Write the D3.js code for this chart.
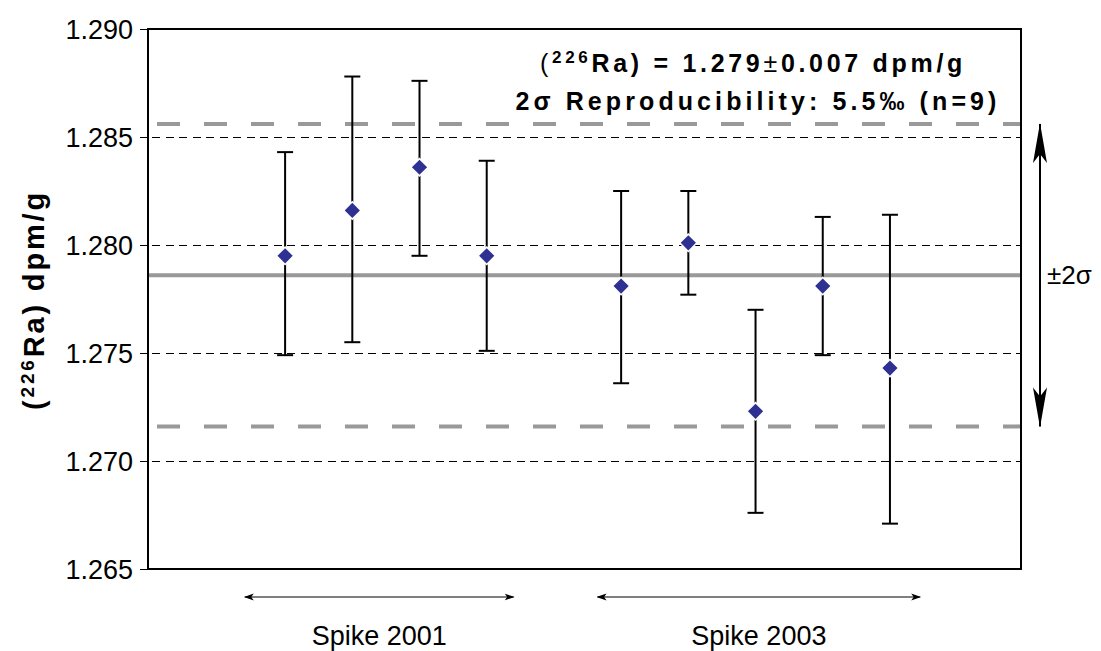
<!DOCTYPE html>
<html><head><meta charset="utf-8">
<script src="https://cdn.jsdelivr.net/npm/d3@7"></script>
<style>body{margin:0;background:#fff}svg{display:block}text{font-family:"Liberation Sans",Arial,sans-serif}</style>
</head><body>
<svg id="c" width="1101" height="651"></svg>
<script>
const positions = [1,2,3,4,6,7,8,9,10];
const values = [1.2795,1.2816,1.2836,1.2795,1.2781,1.2801,1.2723,1.2781,1.2743];
const upper = [1.2843,1.2878,1.2876,1.2839,1.2825,1.2825,1.2770,1.2813,1.2814];
const lower = [1.2749,1.2755,1.2795,1.2751,1.2736,1.2777,1.2676,1.2749,1.2671];
const yTicks = [1.265,1.270,1.275,1.280,1.285,1.290];
const gridTicks = [1.270,1.275,1.280,1.285];
const mean = 1.2786, twoSigma = 0.007;
const groups = [{label:"Spike 2001", from:0.4, to:4.4},{label:"Spike 2003", from:5.65, to:10.45}];

const svg = d3.select("#c");
const L=148,R=1021,T=29,B=569;
const x = d3.scaleLinear().domain([-1.04,11.95]).range([L,R]);
const y = d3.scaleLinear().domain([1.265,1.290]).range([B,T]);

function fit(sel, target){
  sel.attr("letter-spacing",0);
  const n = sel.node().getNumberOfChars();
  const w = sel.node().getBBox().width;
  sel.attr("letter-spacing", Math.max(0,(target - w)/n));
}

const defs = svg.append("defs");
defs.append("marker").attr("id","ah").attr("viewBox","0 0 10 10").attr("refX",9).attr("refY",5)
   .attr("markerWidth",10).attr("markerHeight",10).attr("markerUnits","userSpaceOnUse").attr("orient","auto-start-reverse")
   .append("path").attr("d","M0,1.5 L10,5 L0,8.5 L2.5,5 Z").attr("fill","#000");
defs.append("marker").attr("id","big").attr("viewBox","0 0 40 14").attr("refX",39).attr("refY",7)
  .attr("markerWidth",40).attr("markerHeight",14).attr("markerUnits","userSpaceOnUse").attr("orient","auto-start-reverse")
  .append("path").attr("d","M0,0 L40,7 L0,14 L9,7 Z").attr("fill","#000");

// grid
svg.append("g").selectAll("line").data(gridTicks).join("line")
  .attr("x1",L+4).attr("x2",R).attr("y1",d=>y(d)+0.5).attr("y2",d=>y(d)+0.5)
  .attr("stroke","#000").attr("stroke-width",1).attr("stroke-dasharray","8,5.5").attr("shape-rendering","crispEdges");

// mean and 2 sigma lines
svg.append("line").attr("x1",L).attr("x2",R).attr("y1",y(mean)).attr("y2",y(mean))
  .attr("stroke","#999").attr("stroke-width",4);
svg.append("g").selectAll("line").data([mean+twoSigma, mean-twoSigma]).join("line")
  .attr("x1",L).attr("x2",R).attr("y1",d=>y(d)).attr("y2",d=>y(d))
  .attr("stroke","#999").attr("stroke-width",4).attr("stroke-dasharray","23,24").attr("stroke-dashoffset",38);

// error bars
const g = svg.append("g");
positions.forEach((p,i)=>{
  const cx = x(p);
  g.append("line").attr("x1",cx).attr("x2",cx).attr("y1",y(upper[i])).attr("y2",y(lower[i])).attr("stroke","#000").attr("stroke-width",2);
  [upper[i],lower[i]].forEach(v=>g.append("line").attr("x1",cx-8).attr("x2",cx+8).attr("y1",y(v)).attr("y2",y(v)).attr("stroke","#000").attr("stroke-width",2));
});
g.selectAll("path.pt").data(positions).join("path").attr("class","pt")
  .attr("d",d3.symbol(d3.symbolSquare, 150))
  .attr("transform",(d,i)=>`translate(${x(d)},${y(values[i])}) rotate(45)`)
  .attr("fill","#2e3192").attr("stroke","#fff").attr("stroke-width",1.5);

// frame
svg.append("rect").attr("x",L).attr("y",T).attr("width",R-L).attr("height",B-T)
  .attr("fill","none").attr("stroke","#000").attr("stroke-width",2);

// y axis
const ax = svg.append("g").attr("transform",`translate(${L},0)`)
  .call(d3.axisLeft(y).tickValues(yTicks).tickFormat(d3.format(".3f")).tickSize(8).tickPadding(7));
ax.select(".domain").remove();
ax.selectAll("text").attr("font-size",27).attr("fill","#000").attr("font-family","'Liberation Sans',Arial,sans-serif").attr("dy","0.36em");
ax.selectAll("line").attr("stroke","#000");

// y label
const yl = svg.append("text").attr("transform","translate(44,300) rotate(-90)").attr("text-anchor","middle")
  .attr("font-size",29).attr("font-weight","bold");
yl.append("tspan").text("(");
yl.append("tspan").text("226").attr("font-size",19).attr("dy",-10);
yl.append("tspan").text("Ra) dpm/g").attr("dy",10);
fit(yl, 220);

// annotation text
const t1 = svg.append("text").attr("x",753).attr("y",72).attr("text-anchor","middle").attr("font-size",25).attr("font-weight","bold");
t1.append("tspan").text("(").attr("font-weight","normal");
t1.append("tspan").text("226").attr("font-size",17).attr("dy",-9);
t1.append("tspan").text("Ra) = 1.279").attr("dy",9);
t1.append("tspan").text("±").attr("font-weight","normal");
t1.append("tspan").text("0.007 dpm/g");
fit(t1, 426);
const t2 = svg.append("text").attr("x",758).attr("y",110).attr("text-anchor","middle").attr("font-size",25).attr("font-weight","bold")
  .text("2σ Reproducibility: 5.5‰ (n=9)");
fit(t2, 485);

// ±2σ arrow
svg.append("line").attr("x1",1040).attr("x2",1040).attr("y1",y(mean+twoSigma)).attr("y2",y(mean-twoSigma))
  .attr("stroke","#000").attr("stroke-width",2).attr("marker-start","url(#big)").attr("marker-end","url(#big)");
svg.append("text").attr("x",1047).attr("y",284).attr("font-size",26).text("±2σ");

// group arrows
groups.forEach(gr=>{
  svg.append("line").attr("x1",x(gr.from)).attr("x2",x(gr.to)).attr("y1",597).attr("y2",597)
    .attr("stroke","#000").attr("stroke-width",1.2).attr("marker-start","url(#ah)").attr("marker-end","url(#ah)");
  svg.append("text").attr("x",(x(gr.from)+x(gr.to))/2).attr("y",645).attr("text-anchor","middle").attr("font-size",27).text(gr.label);
});
</script>
</body></html>
